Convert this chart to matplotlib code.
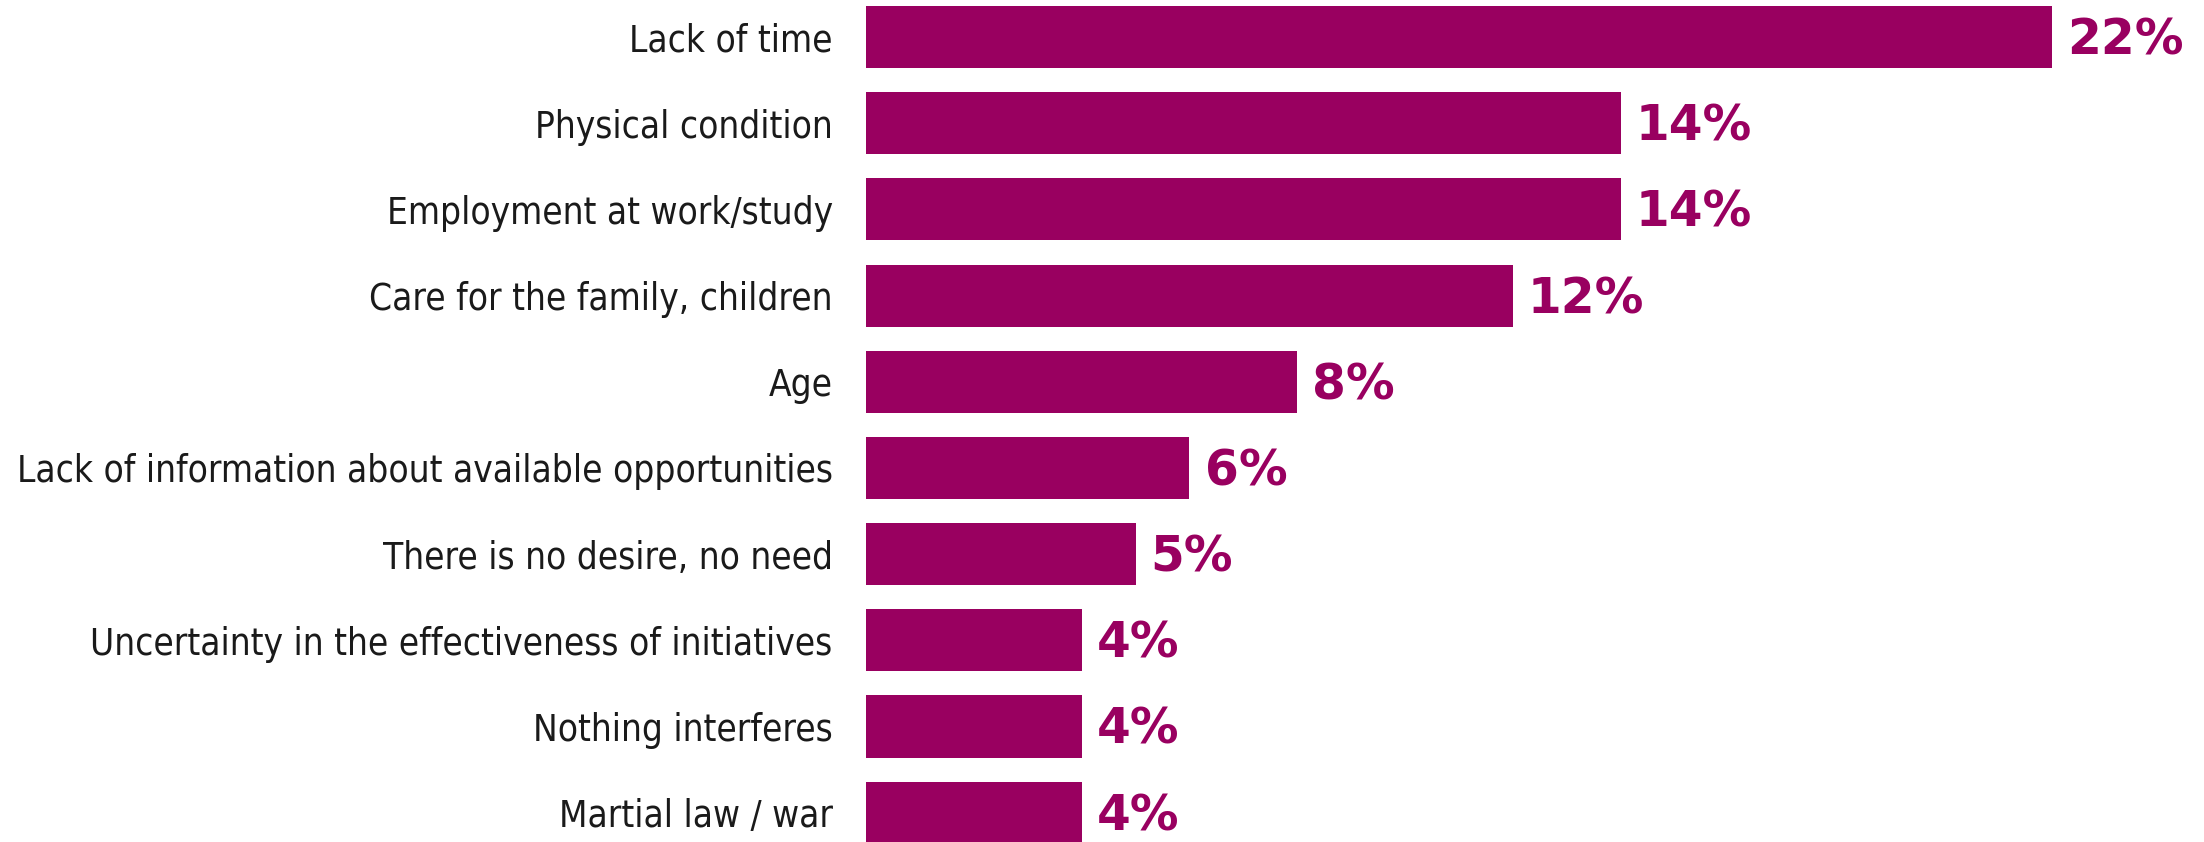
import matplotlib
matplotlib.use("Agg")
import matplotlib.pyplot as plt

categories = ["Lack of time", "Physical condition", "Employment at work/study",
              "Care for the family, children", "Age",
              "Lack of information about available opportunities",
              "There is no desire, no need",
              "Uncertainty in the effectiveness of initiatives",
              "Nothing interferes", "Martial law / war"]
values = [22, 14, 14, 12, 8, 6, 5, 4, 4, 4]
labels = ["22%", "14%", "14%", "12%", "8%", "6%", "5%", "4%", "4%", "4%"]

color = "#990060"

fig = plt.figure(figsize=(22.04, 8.42), dpi=100)
ax = fig.add_axes([866 / 2204, 0, 1 - 866 / 2204, 1])

pos = list(range(len(categories)))
ax.barh(pos, values, height=0.72, color=color)
ax.set_xlim(0, 24.82)
ax.set_ylim(9.34, -0.43)

ax.set_yticks(pos)
ax.set_yticklabels(categories, fontsize=26.5, fontstretch="condensed",
                   family="DejaVu Sans", color="#1a1a1a")
ax.tick_params(axis="y", length=0, pad=24)
ax.set_xticks([])
for s in ax.spines.values():
    s.set_visible(False)

for p, v, t in zip(pos, values, labels):
    ax.text(v + 0.28, p + 0.04, t, va="center", ha="left", fontsize=35,
            fontweight="bold", color=color)

fig.savefig("out.png", dpi=100)
